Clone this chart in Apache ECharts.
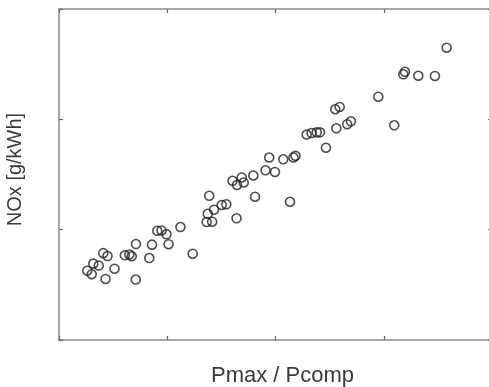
<!DOCTYPE html>
<html>
<head>
<meta charset="utf-8">
<script src="https://cdn.jsdelivr.net/npm/echarts@6/dist/echarts.min.js"></script>
<style>html,body{margin:0;padding:0;background:#fff;}#c{width:489px;height:387px;}</style>
</head>
<body>
<div id="c"></div>
<script>
const xLabel = 'Pmax / Pcomp';
const yLabel = 'NOx [g/kWh]';
const pmaxRatio = [0.261,0.302,0.317,0.367,0.409,0.448,0.430,0.513,0.608,0.650,0.672,0.711,0.709,0.834,0.859,0.908,0.947,0.993,1.012,1.122,1.235,1.374,1.388,1.364,1.415,1.432,1.503,1.546,1.603,1.644,1.640,1.688,1.706,1.795,1.811,1.908,1.942,1.995,2.072,2.134,2.166,2.185,2.288,2.333,2.381,2.411,2.466,2.552,2.593,2.562,2.662,2.697,2.950,3.097,3.181,3.196,3.319,3.473,3.581];
const noxValues = [0.628,0.596,0.692,0.675,0.787,0.761,0.553,0.646,0.768,0.775,0.759,0.870,0.548,0.743,0.864,0.990,0.993,0.958,0.868,1.024,0.782,1.144,1.307,1.069,1.072,1.181,1.224,1.230,1.443,1.405,1.103,1.473,1.428,1.491,1.299,1.538,1.654,1.523,1.638,1.253,1.654,1.669,1.862,1.876,1.882,1.882,1.743,2.092,2.112,1.919,1.956,1.982,2.205,1.946,2.408,2.431,2.395,2.393,2.649];
const xMin = 0, xMax = 4, xStep = 1;
const yMin = 0, yMax = 3, yStep = 1;

const points = pmaxRatio.map((x, i) => [x, noxValues[i]]);
const axisLineStyle = {show: true, onZero: false, lineStyle: {color: '#8a8a8a', width: 1.5}};
const tick = {show: true, inside: true, length: 4, lineStyle: {color: '#6a6a6a', width: 1.2}};
const font = 'Liberation Sans, Arial, sans-serif';

const chart = echarts.init(document.getElementById('c'), null, {renderer: 'canvas'});
chart.setOption({
  animation: false,
  backgroundColor: '#fff',
  grid: {left: 59, top: 9, right: -3, bottom: 47, containLabel: false, outerBoundsMode: 'none'},
  xAxis: [
    {type: 'value', min: xMin, max: xMax, interval: xStep, position: 'bottom',
     axisLine: axisLineStyle, axisTick: tick, axisLabel: {show: false}, splitLine: {show: false},
     name: xLabel, nameLocation: 'middle', nameGap: 25,
     nameTextStyle: {fontFamily: font, fontSize: 22, color: '#3a3a3a', padding: [0, 0, 0, 14]}},
    {type: 'value', min: xMin, max: xMax, interval: xStep, position: 'top',
     axisLine: axisLineStyle, axisTick: tick, axisLabel: {show: false}, splitLine: {show: false}}
  ],
  yAxis: [
    {type: 'value', min: yMin, max: yMax, interval: yStep, position: 'left',
     axisLine: axisLineStyle, axisTick: tick, axisLabel: {show: false}, splitLine: {show: false},
     name: yLabel, nameLocation: 'middle', nameGap: 34, nameRotate: 90,
     nameTextStyle: {fontFamily: font, fontSize: 20, color: '#3a3a3a', padding: [0, 0, 0, 10]}},
    {type: 'value', min: yMin, max: yMax, interval: yStep, position: 'right',
     axisLine: axisLineStyle, axisTick: tick, axisLabel: {show: false}, splitLine: {show: false}}
  ],
  series: [{
    type: 'scatter',
    data: points,
    symbol: 'circle',
    symbolSize: 9,
    itemStyle: {color: 'rgba(255,255,255,0)', borderColor: '#222', borderWidth: 1.6}
  }]
});
</script>
</body>
</html>
